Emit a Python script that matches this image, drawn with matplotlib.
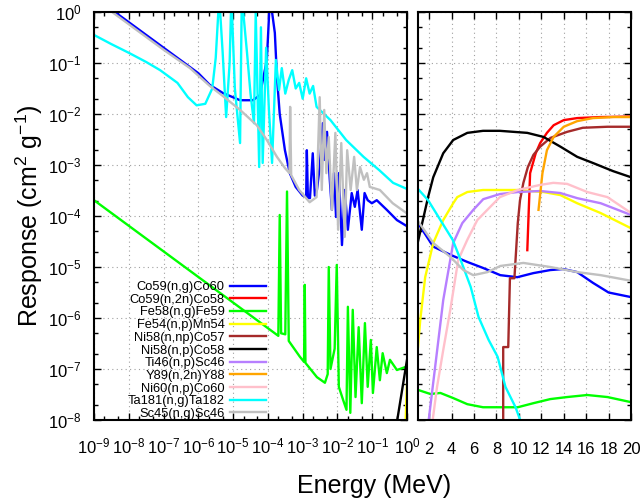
import numpy as np
import matplotlib
matplotlib.use('Agg')
import matplotlib.pyplot as plt
from matplotlib.ticker import LogLocator, MultipleLocator, NullFormatter

plt.rcParams['font.family'] = ['Liberation Sans', 'DejaVu Sans']
plt.rcParams['mathtext.fontset'] = 'custom'
plt.rcParams['mathtext.rm'] = 'Liberation Sans'
plt.rcParams['mathtext.it'] = 'Liberation Sans:italic'
plt.rcParams['mathtext.default'] = 'regular'

# left panel: x = log10(E / MeV), y = log10(response)
# right panel: x = E in MeV, y = log10(response)

co59ng_lo_x = [-9.0, -7.0, -6.0, -5.67, -5.29, -4.8, -4.43, -4.23, -4.03, -3.94, -3.8, -3.74, -3.66, -3.51,
               -3.37, -3.2, -3.0, -2.9, -2.88, -2.85, -2.79, -2.71, -2.65, -2.59, -2.51, -2.42, -2.38, -2.3,
               -2.22, -2.16, -2.1, -2.04, -1.96, -1.87, -1.79, -1.7, -1.59, -1.5, -1.42, -1.3, -1.22, -1.13,
               -1.01, -0.87, -0.58, -0.29, 0.0]
co59ng_lo_y = [0.3, -0.7, -1.2, -1.43, -1.59, -1.73, -1.73, -1.63, -0.94, 0.3, -0.41, -1.27, -2.0, -2.71,
               -3.16, -3.43, -3.6, -3.62, -2.71, -3.64, -3.65, -2.77, -3.6, -3.49, -3.04, -2.18, -2.9, -2.35,
               -3.29, -3.88, -3.16, -4.02, -3.16, -4.57, -3.49, -4.27, -3.55, -3.82, -3.49, -4.27, -3.55, -3.69,
               -3.75, -3.69, -3.88, -4.08, -4.2]
co59ng_hi_x = [1.0, 2.36, 3.88, 5.39, 6.82, 8.34, 9.86, 11.29, 12.8, 13.96, 15.2, 16.6, 18.0, 20.0]
co59ng_hi_y = [-4.14, -4.6, -4.76, -4.9, -5.02, -5.16, -5.2, -5.12, -5.06, -5.04, -5.1, -5.31, -5.5, -5.59]

co59n2n_lo_x = []
co59n2n_lo_y = []
co59n2n_hi_x = [10.75, 11.0, 11.5, 11.9, 12.5, 13.1, 14.0, 15.2, 17.3, 20.0]
co59n2n_hi_y = [-4.67, -3.16, -2.77, -2.57, -2.37, -2.22, -2.12, -2.08, -2.06, -2.05]

fe58ng_lo_x = [-9.0, -3.7, -3.66, -3.62, -3.5, -3.45, -3.4, -3.08, -2.96, -2.94, -2.92, -2.59, -2.36, -2.28,
               -2.25, -2.2, -2.08, -2.02, -1.96, -1.84, -1.74, -1.7, -1.63, -1.56, -1.48, -1.39, -1.3, -1.21,
               -1.13, -1.04, -0.98, -0.87, -0.78, -0.7, -0.58, -0.49, -0.29, 0.0]
fe58ng_lo_y = [-3.69, -6.35, -3.98, -6.3, -6.32, -3.52, -6.45, -6.76, -6.86, -5.35, -6.88, -7.16, -7.27, -7.1,
               -5.0, -7.0, -6.6, -4.96, -7.35, -7.6, -7.8, -5.78, -7.86, -5.84, -7.55, -6.18, -7.67, -6.1,
               -7.35, -6.43, -7.47, -6.57, -7.22, -6.69, -7.08, -6.82, -7.02, -6.95]
fe58ng_hi_x = [1.0, 2.1, 3.0, 4.14, 5.4, 6.8, 8.3, 9.9, 11.3, 12.8, 14.3, 16.1, 17.9, 20.0]
fe58ng_hi_y = [-7.41, -7.49, -7.47, -7.57, -7.69, -7.75, -7.75, -7.75, -7.67, -7.59, -7.55, -7.51, -7.55, -7.65]

fe54np_lo_x = [-0.06, -0.02, 0.0]
fe54np_lo_y = [-8.5, -7.6, -7.3]
fe54np_hi_x = [1.0, 1.2, 1.64, 2.36, 3.25, 4.14, 4.5, 5.4, 6.8, 9.9, 12.2, 13.7, 15.2, 17.27, 20.0]
fe54np_hi_y = [-6.57, -6.04, -5.2, -4.53, -4.08, -3.75, -3.63, -3.53, -3.49, -3.49, -3.53, -3.59, -3.75, -3.94, -4.24]

ni58nnp_lo_x = []
ni58nnp_lo_y = []
ni58nnp_hi_x = [8.6, 8.6, 9.05, 9.2, 9.6, 9.9, 10.1, 10.4, 10.8, 11.3, 11.9, 12.8, 14.3, 15.7, 17.9, 20.0]
ni58nnp_hi_y = [-9.0, -6.57, -6.57, -5.22, -5.22, -4.14, -3.69, -3.35, -3.04, -2.8, -2.64, -2.47, -2.35, -2.27,
                -2.25, -2.25]

ni58np_lo_x = [-0.45, -0.28, 0.0]
ni58np_lo_y = [-8.7, -8.0, -6.82]
ni58np_hi_x = [1.0, 1.9, 2.36, 3.25, 4.14, 5.4, 6.8, 8.3, 10.75, 12.2, 13.7, 15.2, 16.6, 18.4, 20.0]
ni58np_hi_y = [-4.5, -3.63, -3.24, -2.77, -2.51, -2.37, -2.33, -2.33, -2.37, -2.45, -2.64, -2.84, -2.96, -3.12, -3.24]

ti46np_lo_x = []
ti46np_lo_y = []
ti46np_hi_x = [1.9, 2.71, 3.25, 4.14, 4.95, 5.93, 6.82, 8.3, 9.9, 11.9, 13.7, 15.2, 17.3, 20.0]
ti46np_hi_y = [-8.1, -6.63, -5.65, -4.53, -4.14, -3.88, -3.67, -3.57, -3.53, -3.51, -3.55, -3.65, -3.75, -3.98]

y89n2n_lo_x = []
y89n2n_lo_y = []
y89n2n_hi_x = [11.75, 12.1, 12.5, 13.1, 14.0, 15.2, 16.6, 18.4, 20.0]
y89n2n_hi_y = [-3.88, -3.16, -2.71, -2.45, -2.25, -2.14, -2.08, -2.06, -2.06]

ni60np_lo_x = []
ni60np_lo_y = []
ni60np_hi_x = [2.25, 2.7, 3.25, 3.88, 4.59, 5.39, 6.29, 7.45, 8.3, 9.9, 11.9, 13.07, 14.3, 16.1, 17.9, 20.0]
ni60np_hi_y = [-8.1, -7.35, -6.63, -5.84, -4.86, -4.47, -4.08, -3.82, -3.63, -3.49, -3.39, -3.35, -3.37, -3.53,
               -3.63, -3.94]

ta181ng_lo_x = [-9.0, -8.5, -8.0, -7.5, -7.1, -6.6, -6.3, -6.05, -5.8, -5.6, -5.5, -5.4, -5.3, -5.2, -5.1, -5.05,
                -4.95, -4.8, -4.75, -4.6, -4.5, -4.4, -4.35, -4.25, -4.2, -4.15, -4.05, -3.97, -3.88, -3.77,
                -3.68, -3.6, -3.5, -3.4, -3.3, -3.2, -3.1, -3.0, -2.9, -2.8, -2.7, -2.6, -2.2, -1.75, -1.25,
                -0.8, -0.4, 0.0]
ta181ng_lo_y = [-0.45, -0.63, -0.8, -0.98, -1.14, -1.39, -1.67, -1.83, -1.8, -1.5, -0.9, 0.3, -0.8, -2.06, -1.0,
                0.3, -1.5, -2.57, 0.3, -0.8, -1.6, -2.18, 0.0, -3.04, -0.3, -2.96, -0.7, -1.92, -2.96, -0.94,
                -1.53, -1.1, -1.6, -1.33, -1.14, -1.5, -1.39, -1.7, -1.3, -1.6, -1.45, -1.86, -2.12, -2.51, -2.84,
                -3.1, -3.35, -3.47]
ta181ng_hi_x = [1.0, 1.9, 3.0, 4.1, 4.8, 5.7, 6.4, 7.3, 8.1, 8.8, 9.7, 10.2]
ta181ng_hi_y = [-3.47, -3.69, -4.08, -4.47, -4.86, -5.39, -5.98, -6.43, -6.76, -7.35, -7.75, -8.05]

sc45ng_lo_x = [-9.0, -7.0, -6.24, -5.67, -5.29, -4.8, -4.32, -4.03, -3.74, -3.51, -3.38, -3.36, -3.33, -3.1,
               -2.8, -2.6, -2.51, -2.45, -2.38, -2.32, -2.25, -2.16, -2.06, -1.98, -1.89, -1.79, -1.72, -1.62,
               -1.52, -1.44, -1.35, -1.24, -1.15, -1.07, -0.78, -0.41, 0.0]
sc45ng_lo_y = [0.26, -0.74, -1.1, -1.45, -1.65, -1.92, -2.22, -2.51, -2.84, -3.06, -3.16, -1.86, -3.2, -3.49,
               -3.73, -3.63, -1.67, -3.49, -1.92, -3.16, -2.45, -3.88, -2.37, -4.27, -2.57, -4.41, -2.71, -3.49,
               -2.84, -3.49, -3.04, -3.29, -3.16, -3.43, -3.49, -3.75, -3.95]
sc45ng_hi_x = [1.0, 2.36, 3.88, 5.05, 5.93, 7.2, 8.34, 10.4, 12.8, 15.2, 17.3, 20.0]
sc45ng_hi_y = [-4.1, -4.53, -4.8, -5.06, -5.16, -5.1, -4.98, -4.92, -5.0, -5.1, -5.16, -5.27]

reactions = [
    ('Co59(n,g)Co60', '#0000ff', co59ng_lo_x, co59ng_lo_y, co59ng_hi_x, co59ng_hi_y),
    ('Co59(n,2n)Co58', '#ff0000', co59n2n_lo_x, co59n2n_lo_y, co59n2n_hi_x, co59n2n_hi_y),
    ('Fe58(n,g)Fe59', '#00ff00', fe58ng_lo_x, fe58ng_lo_y, fe58ng_hi_x, fe58ng_hi_y),
    ('Fe54(n,p)Mn54', '#ffff00', fe54np_lo_x, fe54np_lo_y, fe54np_hi_x, fe54np_hi_y),
    ('Ni58(n,np)Co57', '#a52a2a', ni58nnp_lo_x, ni58nnp_lo_y, ni58nnp_hi_x, ni58nnp_hi_y),
    ('Ni58(n,p)Co58', '#000000', ni58np_lo_x, ni58np_lo_y, ni58np_hi_x, ni58np_hi_y),
    ('Ti46(n,p)Sc46', '#b77fff', ti46np_lo_x, ti46np_lo_y, ti46np_hi_x, ti46np_hi_y),
    ('Y89(n,2n)Y88', '#ffa500', y89n2n_lo_x, y89n2n_lo_y, y89n2n_hi_x, y89n2n_hi_y),
    ('Ni60(n,p)Co60', '#ffc0cb', ni60np_lo_x, ni60np_lo_y, ni60np_hi_x, ni60np_hi_y),
    ('Ta181(n,g)Ta182', '#00ffff', ta181ng_lo_x, ta181ng_lo_y, ta181ng_hi_x, ta181ng_hi_y),
    ('Sc45(n,g)Sc46', '#c0c0c0', sc45ng_lo_x, sc45ng_lo_y, sc45ng_hi_x, sc45ng_hi_y),
]

fig = plt.figure(figsize=(6.41, 5.04), dpi=100)
axL = fig.add_axes([94 / 641, 1 - 420 / 504, 313 / 641, 408 / 504])
axR = fig.add_axes([418 / 641, 1 - 420 / 504, 213 / 641, 408 / 504])

lw = 1.7
for name, col, lx, ly, hx, hy in reactions:
    axL.plot(10.0 ** np.array(lx, dtype=float), 10.0 ** np.array(ly, dtype=float),
             color=col, lw=lw, label=name)
    axR.plot(np.array(hx, dtype=float), 10.0 ** np.array(hy, dtype=float), color=col, lw=lw)

for ax in (axL, axR):
    ax.set_yscale('log')
    ax.set_ylim(1e-8, 1)
    ax.yaxis.set_major_locator(LogLocator(base=10, numticks=20))
    ax.yaxis.set_minor_locator(LogLocator(base=10, subs=(2.0, 5.0), numticks=20))
    ax.yaxis.set_minor_formatter(NullFormatter())
    ax.tick_params(which='both', direction='in', top=True, right=True, width=1, labelsize=12)
    ax.tick_params(which='major', length=5)
    ax.tick_params(which='minor', length=3)
    ax.grid(True, which='major', linestyle=(0, (1, 3)), color='#a0a0a0', lw=0.8)
    for s in ax.spines.values():
        s.set_linewidth(1.5)

axL.set_xscale('log')
axL.set_xlim(1e-9, 1)
axL.xaxis.set_major_locator(LogLocator(base=10, numticks=20))
axL.xaxis.set_minor_locator(LogLocator(base=10, subs=(2.0, 5.0), numticks=20))
axL.xaxis.set_minor_formatter(NullFormatter())
axL.tick_params(axis='x', pad=12)
axL.tick_params(axis='y', pad=9)

axR.set_xlim(1, 20)
axR.xaxis.set_major_locator(MultipleLocator(2))
axR.tick_params(axis='x', pad=16)
axR.set_yticklabels([])

axL.legend(loc='lower right', bbox_to_anchor=(0.55, 0.0), frameon=False, markerfirst=False,
           fontsize=9.3, handlelength=2.8, handletextpad=0.4, labelspacing=0.05,
           borderpad=0, borderaxespad=0)

fig.text(374 / 641, 1 - 493 / 504, 'Energy (MeV)', ha='center', va='baseline', fontsize=18)
fig.text(29 / 641, 1 - 216 / 504, 'Response (cm$^2$ g$^{-1}$)', ha='center', va='center',
         rotation=90, fontsize=18)

fig.savefig('out.png', dpi=100)
